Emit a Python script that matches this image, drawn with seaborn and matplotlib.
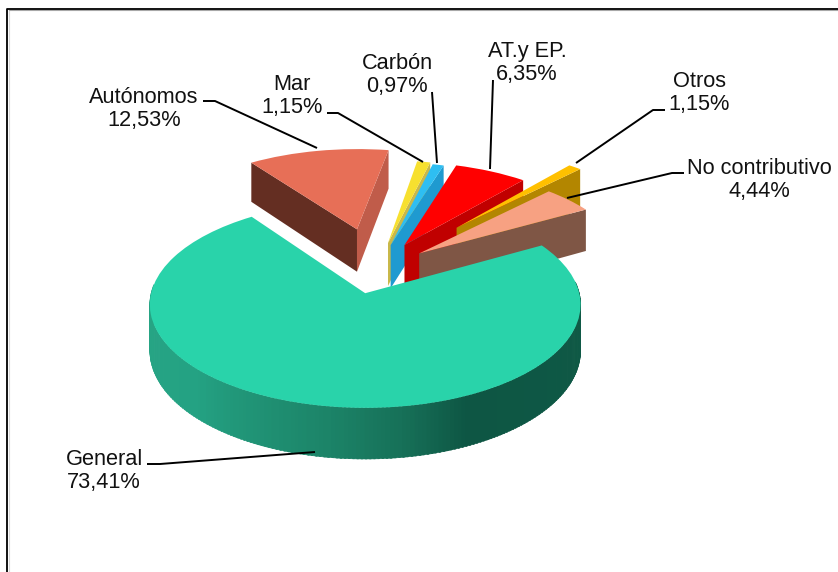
import numpy as np
import matplotlib
matplotlib.use("Agg")
import matplotlib.pyplot as plt
import seaborn as sns
from matplotlib.colors import LinearSegmentedColormap
from matplotlib.transforms import Transform

categories = ["General", "No contributivo", "Otros", "AT.y EP.", "Carbón", "Mar", "Autónomos"]
shares = [73.41, 4.44, 1.15, 6.35, 0.97, 1.15, 12.53]
share_labels = ["73,41%", "4,44%", "1,15%", "6,35%", "0,97%", "1,15%", "12,53%"]
explode = [0.253, 0.263, 0.60, 0.287, 0.26, 0.28, 0.436]
top_colors = ["#29D3AA", "#F7A182", "#FFC000", "#FF0000", "#2EBEF2", "#F7E02F", "#E76F57"]
start_face = ["#1A8F72", "#7F5645", "#B38600", "#C00000", "#1F9AD0", "#C9B84A", "#C05C4A"]
end_face = ["#1A8F72", "#7F5645", "#B38600", "#C00000", "#1F9AD0", "#C9B84A", "#642E22"]

sns.set_theme(style="white")
plt.rcParams["font.family"] = ["Liberation Sans", "DejaVu Sans"]

CX, CY, AX, BY, K, DEPTH = 365.0, 293.0, 214.0, 102.0, 0.11, 45.5


def project(x, y, z=0.0):
    x, y = np.asarray(x, float), np.asarray(y, float)
    s = 1.0 / (1.0 + K * y)
    return CX + AX * x * s, CY - BY * y * s + z * DEPTH * s


class Perspective(Transform):
    input_dims = 2
    output_dims = 2
    is_separable = False
    has_inverse = False

    def transform_non_affine(self, values):
        values = np.asarray(values, float)
        return np.column_stack(project(values[:, 0], values[:, 1]))


fig = plt.figure(figsize=(8.38, 5.72), dpi=100, facecolor="white")
ax = fig.add_axes([0, 0, 1, 1])
wedges, _ = ax.pie(shares, explode=explode, colors=top_colors, startangle=125.3,
                   radius=1.0, center=(0.056, 0.245),
                   wedgeprops={"linewidth": 0})
ax.set_aspect("auto")
ax.set_xlim(0, 838)
ax.set_ylim(572, 0)
ax.axis("off")

persp = Perspective()
rim_cmap = LinearSegmentedColormap.from_list(
    "rim", [(0.0, "#27A585"), (0.25, "#24A283"), (0.45, "#1C8468"),
            (0.55, "#166F57"), (0.63, "#0E5644"), (1.0, "#0F5A46")])


def cut_face(cx, cy, angle, color, z):
    a = np.radians(angle)
    ex, ey = cx + np.cos(a), cy + np.sin(a)
    px0, py0 = project([cx, ex], [cy, ey], 0.0)
    px1, py1 = project([cx, ex], [cy, ey], 1.0)
    ax.fill([px0[0], px0[1], px1[1], px1[0]], [py0[0], py0[1], py1[1], py1[0]],
            color=color, lw=0, zorder=z)


order = np.arange(len(wedges))[::-1]
for rank, i in enumerate(order):
    w = wedges[i]
    z = 2 + rank * 3
    cx, cy = w.center
    if w.theta2 - w.theta1 < 180:
        if np.cos(np.radians(w.theta2)) < 0:
            cut_face(cx, cy, w.theta2, end_face[i], z)
        if np.cos(np.radians(w.theta1)) > 0:
            cut_face(cx, cy, w.theta1, start_face[i], z + 0.5)
    else:
        for a0 in np.arange(175.0, 366.0, 1.0):
            a = np.radians([a0, a0 + 1.4])
            ex, ey = cx + np.cos(a), cy + np.sin(a)
            x0, y0 = project(ex, ey, 0.0)
            x1, y1 = project(ex, ey, 1.0)
            c = rim_cmap((a0 - 175.0) / 190.0)
            ax.fill([x0[0], x0[1], x1[1], x1[0]], [y0[0], y0[1], y1[1], y1[0]],
                    facecolor=c, edgecolor=c, lw=0.4, zorder=z)
    w.set_transform(persp + ax.transData)
    w.set_zorder(z + 1)

leaders = {
    "Autónomos": ([203, 215, 317], [101, 101, 148]),
    "Mar": ([327, 338, 423], [113, 113, 162]),
    "Carbón": ([432, 437], [92, 163]),
    "AT.y EP.": ([493, 490], [80, 169]),
    "Otros": ([665, 653, 576], [110, 110, 163]),
    "No contributivo": ([684, 672, 567], [173, 173, 198]),
    "General": ([147, 160, 315], [464, 464, 452]),
}
for name in categories:
    xs, ys = leaders[name]
    ax.plot(xs, ys, color="black", lw=1.4, zorder=40, solid_capstyle="butt")

label_pos = {
    "Autónomos": (144, 109),
    "Mar": (292, 96),
    "Carbón": (397, 75),
    "AT.y EP.": (527, 63),
    "Otros": (699, 93),
    "No contributivo": (759, 180),
    "General": (104, 471),
}
for name, txt in zip(categories, share_labels):
    x, y = label_pos[name]
    ax.text(x, y, f"{name}\n{txt}", ha="center", va="center", fontsize=15.7,
            color="#111111", linespacing=1.14, zorder=50)

ax.plot([8.8, 8.8], [572, 10], color="#D8D8D8", lw=0.8, zorder=59, clip_on=False)
ax.plot([8.8, 838], [10, 10], color="#A8A8A8", lw=0.8, zorder=59, clip_on=False)
ax.plot([7.3, 7.3, 838], [572, 8.6, 8.6], color="black", lw=1.3, zorder=60, clip_on=False)
fig.savefig("out.png", dpi=100, facecolor="white")
